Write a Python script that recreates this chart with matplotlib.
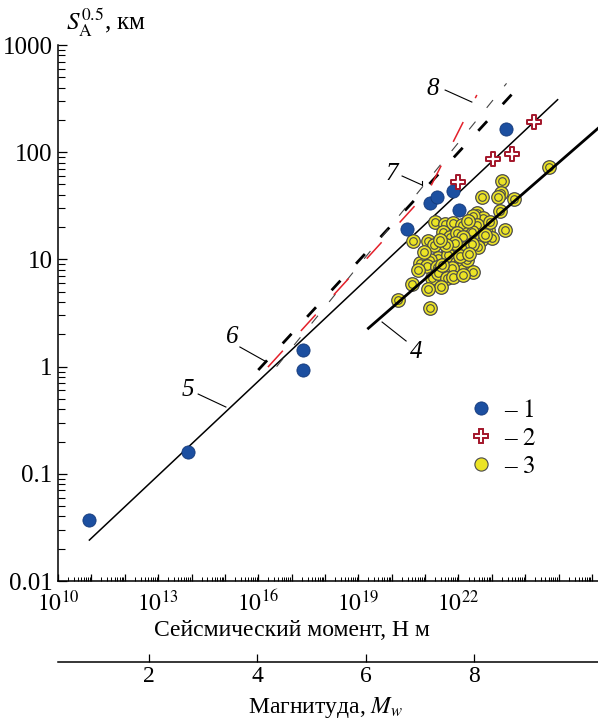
import matplotlib
matplotlib.use("Agg")
import matplotlib.pyplot as plt
import numpy as np
from matplotlib.lines import Line2D
from matplotlib.ticker import FixedLocator, FuncFormatter, LogLocator, NullFormatter

plt.rcParams["font.family"] = ["Liberation Serif", "DejaVu Serif"]
plt.rcParams["mathtext.fontset"] = "stix"
plt.rcParams["font.size"] = 17

# --- data (log10 of seismic moment, S^0.5 in km) ---
blue_logm = [10.94, 13.89, 17.35, 17.35, 20.45, 21.15, 21.35, 21.84, 22.02, 23.41]
blue_s = [0.037, 0.16, 1.43, 0.93, 19.1, 33.8, 38.5, 43.5, 28.9, 164]

cross_logm = [21.99, 23.04, 23.59, 24.25]
cross_s = [53, 86.5, 95.5, 191]

yellow_logm = [24.71, 23.30, 23.27, 23.18, 22.70, 23.66, 23.24, 23.39, 22.55, 22.73,
               22.43, 22.88, 22.55, 22.40, 23.00, 22.94, 21.30, 21.60, 21.84, 22.11,
               22.29, 21.54, 21.75, 21.96, 22.14, 22.67, 20.64, 21.09, 21.27, 22.58,
               21.69, 21.96, 22.20, 22.40, 21.39, 21.69, 21.15, 20.85, 21.06, 21.36,
               21.96, 22.11, 22.26, 21.81, 22.43, 21.21, 21.39, 21.66, 21.84, 22.14,
               21.48, 21.09, 20.61, 20.19, 21.15, 21.51, 21.90, 22.79, 21.63, 20.97,
               22.05, 22.32, 20.79, 21.45]
yellow_s = [72.8, 53.8, 41.6, 38.2, 38.2, 36.6, 28.3, 18.8, 27.1, 24.3,
            25.4, 18.8, 20.9, 18.0, 15.8, 22.3, 22.3, 21.4, 21.9, 20.9,
            22.8, 18.0, 16.2, 17.6, 16.2, 15.2, 14.9, 14.9, 13.6, 13.1,
            11.7, 12.2, 12.8, 13.9, 10.3, 11.0, 9.9, 9.2, 8.7, 8.5,
            9.2, 8.3, 9.9, 8.3, 7.6, 6.7, 7.5, 6.7, 6.9, 7.2,
            5.5, 5.3, 5.9, 4.2, 3.5, 8.9, 14.2, 16.9, 13.6, 11.7,
            10.8, 11.2, 8.0, 15.2]

# regression / model lines
line4_logm = [19.30, 26.2]
line4_s = [2.28, 169]
line5_logm = [10.94, 24.97]
line5_s = [0.0241, 309]
line6_logm = [16.0, 24.02]
line6_s = [0.93, 482]
line7_logm = [16.55, 23.44]
line7_s = [1.0, 439]
line8_logm = [16.29, 21.1, 22.55]
line8_s = [0.99, 43.6, 342]

x_label_exps = [10, 13, 16, 19, 22]
mw_ticks = [2, 4, 6, 8]


def m0(v):
    return 10.0 ** np.asarray(v, dtype=float)


fig = plt.figure(figsize=(5.98, 7.25), dpi=100)
ax = fig.add_axes([0.097, 0.1986, 0.903, 0.7393])

ax.set_xscale("log")
ax.set_yscale("log")
ax.set_xlim(1e10, 10 ** 26.18)
ax.set_ylim(0.01, 1000)

# lines
ax.plot(m0(line5_logm), line5_s, color="black", lw=1.1, zorder=2)
ax.plot(m0(line6_logm), line6_s, color="black", lw=2.0, dashes=(4.7, 8.3), zorder=2)
ax.plot(m0(line7_logm), line7_s, color="#444444", lw=0.8, dashes=(9, 16), zorder=2)
ax.plot(m0(line8_logm), line8_s, color="#e3202a", lw=1.1, dashes=(14.5, 17.5), zorder=2)

# yellow points, each drawn as ring-in-circle
yc = "#ece425"
for lm, s in zip(yellow_logm, yellow_s):
    ax.scatter(m0(lm), s, s=95, facecolor=yc, edgecolor="#4a4a4a", lw=0.9, zorder=3)
    ax.scatter(m0(lm), s, s=30, facecolor=yc, edgecolor="#4a4a4a", lw=0.8, zorder=3)

ax.plot(m0(line4_logm), line4_s, color="black", lw=2.0, zorder=4, clip_on=True)

ax.scatter(m0(blue_logm), blue_s, s=90, facecolor="#1c4fa0", edgecolor="#14397a",
           lw=0.6, zorder=5)
ax.scatter(m0(cross_logm), cross_s, s=110, marker="P", facecolor="white",
           edgecolor="#a3162a", lw=1.4, zorder=5)

# line labels with leaders (data coords, log10 values)
leaders = [
    ("4", (19.71, 0.416), (20.43, 0.239), (20.73, 0.136)),
    ("5", (15.03, -0.377), (14.20, -0.256), (13.90, -0.218)),
    ("6", (16.20, 0.052), (15.45, 0.183), (15.21, 0.276)),
    ("7", (20.91, 1.694), (20.31, 1.778), (20.01, 1.797)),
    ("8", (22.40, 2.468), (21.60, 2.580), (21.24, 2.590)),
]
for lab, p0, p1, pt in leaders:
    ax.plot(m0([p0[0], p1[0]]), m0([p0[1], p1[1]]), color="black", lw=0.8, zorder=6)
    ax.text(m0(pt[0]), m0(pt[1]), lab, fontstyle="italic", ha="center", va="center",
            fontsize=18, zorder=6)
ax.plot(m0([20.91, 20.91]), m0([1.694, 1.731]), color="black", lw=0.8, zorder=6)

# axes styling
for side in ("top", "right"):
    ax.spines[side].set_visible(False)
for side in ("left", "bottom"):
    ax.spines[side].set_linewidth(1.1)

ax.xaxis.set_major_locator(FixedLocator(m0(np.arange(10, 27))))
ax.xaxis.set_major_formatter(FuncFormatter(
    lambda v, p: f"$10^{{{int(round(np.log10(v)))}}}$"
    if int(round(np.log10(v))) in x_label_exps else ""))
ax.xaxis.set_minor_locator(LogLocator(base=10, subs=np.arange(2, 10), numticks=100))
ax.xaxis.set_minor_formatter(NullFormatter())
ax.tick_params(axis="x", which="major", direction="in", length=5, width=0.9, pad=7,
               labelsize=17)
ax.tick_params(axis="x", which="minor", direction="in", length=3, width=0.7)

ax.yaxis.set_major_locator(FixedLocator([0.01, 0.1, 1, 10, 100, 1000]))
ax.yaxis.set_major_formatter(FuncFormatter(lambda v, p: f"{v:g}"))
ax.yaxis.set_minor_locator(LogLocator(base=10, subs=np.arange(2, 10), numticks=100))
ax.yaxis.set_minor_formatter(NullFormatter())
ax.tick_params(axis="y", which="major", direction="in", length=6.5, width=0.9, pad=4,
               labelsize=18)
ax.tick_params(axis="y", which="minor", direction="in", length=5, width=0.8)

# legend
handles = [
    Line2D([], [], ls="none", marker="o", ms=9.5, mfc="#1c4fa0", mec="#14397a", mew=0.6),
    Line2D([], [], ls="none", marker="P", ms=10.5, mfc="white", mec="#a3162a", mew=1.4),
    Line2D([], [], ls="none", marker="o", ms=9.5, mfc=yc, mec="#4a4a4a", mew=0.8),
]
ax.legend(handles, ["– $\\mathit{1}$", "– $\\mathit{2}$", "– $\\mathit{3}$"],
          loc="center", bbox_to_anchor=(0.823, 0.265), frameon=False,
          handlelength=1.0, handletextpad=0.4, labelspacing=0.22, borderpad=0,
          fontsize=18)

fig.text(66 / 598, 1 - 30 / 725, "$S_\\mathrm{A}^{0.5}$, км", fontsize=18,
         ha="left", va="baseline")
fig.text(292 / 598, 1 - 631 / 725, "Сейсмический момент, Н м", ha="center",
         va="center", fontsize=17)

# magnitude axis
axm = fig.add_axes([0.097, 1 - 662 / 725, 0.903, 0.0001])
axm.set_xlim(0.33, 10.28)
axm.set_ylim(0, 1)
for side in ("top", "right", "left"):
    axm.spines[side].set_visible(False)
axm.spines["bottom"].set_linewidth(1.1)
axm.set_yticks([])
axm.set_xticks(mw_ticks)
axm.set_xticklabels([str(t) for t in mw_ticks])
axm.tick_params(axis="x", direction="in", length=6, width=0.9, pad=3, labelsize=17)
axm.patch.set_visible(False)
fig.text(326 / 598, 1 - 707 / 725, "Магнитуда, $M_w$", ha="center", va="center",
         fontsize=17)

fig.savefig("out.png", dpi=100)
